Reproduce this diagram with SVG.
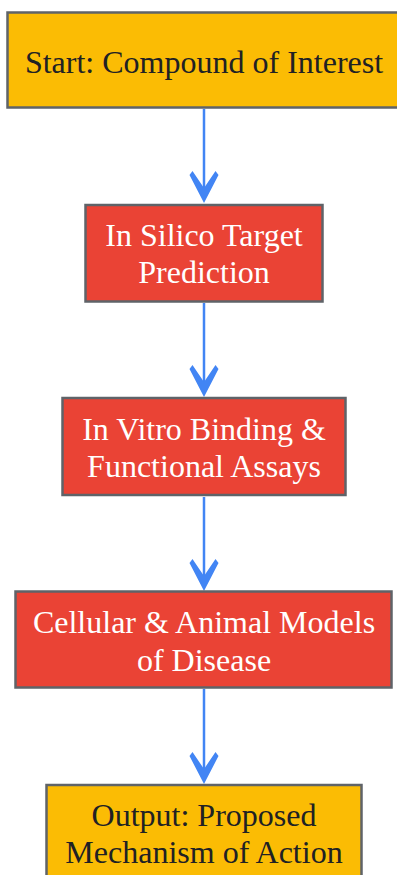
<svg xmlns="http://www.w3.org/2000/svg" width="397" height="875" viewBox="0 0 397 875">
<style>
.box{stroke:#5f6368;stroke-width:2.5}
.y{fill:#fbbc04}
.r{fill:#ea4335}
text{font-family:"Liberation Serif","Times New Roman",serif;font-size:32px;text-anchor:middle}
.dk{fill:#202124}
.wt{fill:#ffffff}
.edge{stroke:#4285f4;stroke-width:2.5;fill:none}
</style>
<defs>
<marker id="ah" markerUnits="userSpaceOnUse" markerWidth="34" markerHeight="30" viewBox="0 0 34 30" refX="19" refY="15" orient="auto" overflow="visible">
<polygon points="32,15 4,0.5 0,3.5 17,15 0,26.5 4,29.5" fill="#4285f4"/>
</marker>
</defs>
<g id="connectors">
<line class="edge" x1="204" y1="109" x2="204" y2="190" marker-end="url(#ah)"/>
<line class="edge" x1="204" y1="303" x2="204" y2="384" marker-end="url(#ah)"/>
<line class="edge" x1="204" y1="497" x2="204" y2="578" marker-end="url(#ah)"/>
<line class="edge" x1="204" y1="689" x2="204" y2="771" marker-end="url(#ah)"/>
</g>
<g id="start">
<rect class="box y" x="7.5" y="12.5" width="393" height="95"/>
<text class="dk" x="204" y="73">Start: Compound of Interest</text>
</g>
<g id="insilico">
<rect class="box r" x="85.5" y="205" width="237" height="96.5"/>
<text class="wt" x="204" y="245.5">In Silico Target</text>
<text class="wt" x="204" y="283">Prediction</text>
</g>
<g id="invitro">
<rect class="box r" x="62.5" y="398" width="283" height="97"/>
<text class="wt" x="204" y="439.5">In Vitro Binding &amp;</text>
<text class="wt" x="204" y="476.5">Functional Assays</text>
</g>
<g id="models">
<rect class="box r" x="15.5" y="591.5" width="376" height="96"/>
<text class="wt" x="204" y="633">Cellular &amp; Animal Models</text>
<text class="wt" x="204" y="670.5">of Disease</text>
</g>
<g id="output">
<rect class="box y" x="46.5" y="785" width="315" height="120"/>
<text class="dk" x="204" y="825.5">Output: Proposed</text>
<text class="dk" x="204" y="863">Mechanism of Action</text>
</g>
</svg>
